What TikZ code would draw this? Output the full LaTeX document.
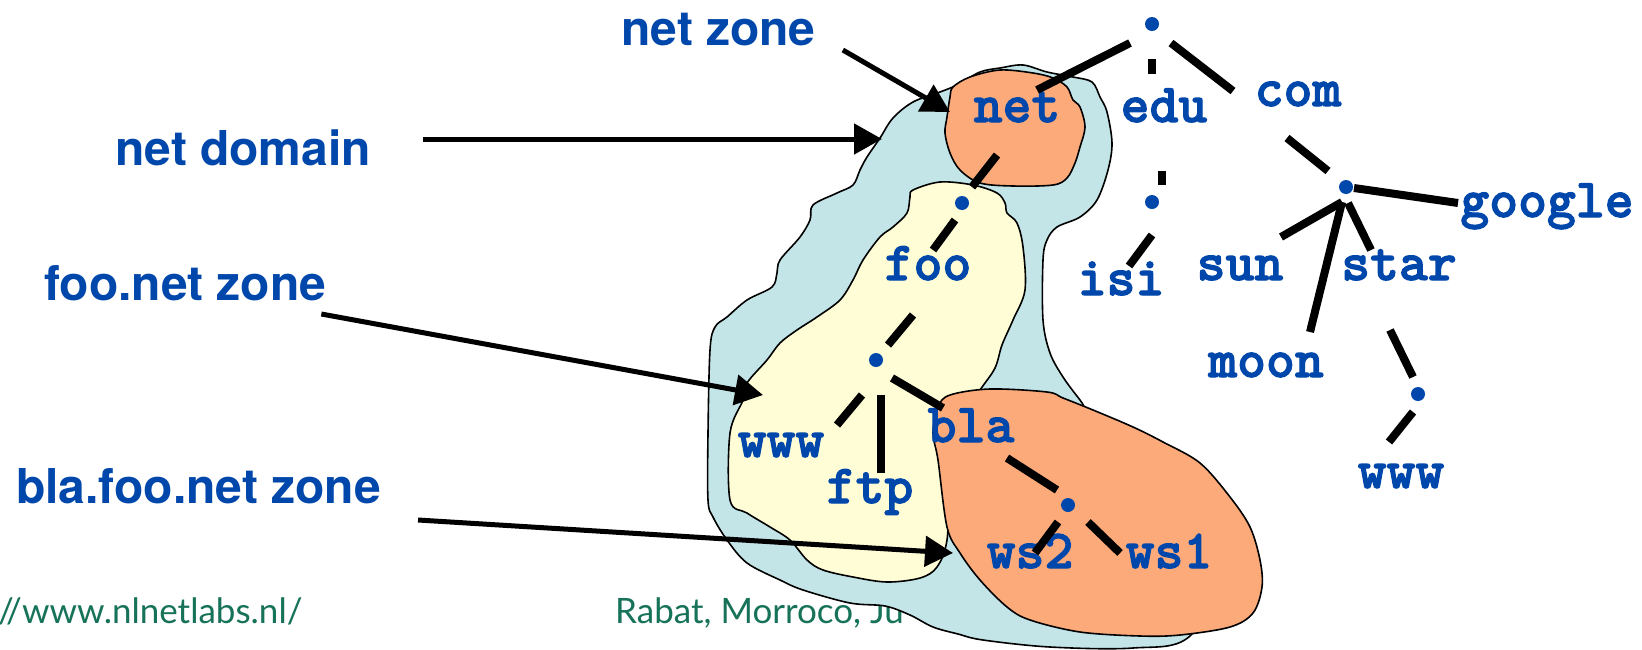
\documentclass[tikz,border=0pt]{standalone}
\usepackage{fontspec}
\setmainfont{TeX Gyre Heros}
\newfontfamily\footfont{Lato}
\newfontfamily\codefont{lmmonolt10-bold.otf}[FakeBold=2]
\usetikzlibrary{arrows.meta,calc}

\definecolor{dnsblue}{RGB}{0,71,171}
\definecolor{footgreen}{RGB}{22,114,88}
\definecolor{domainfill}{RGB}{196,229,232}
\definecolor{zonefill}{RGB}{255,253,213}
\definecolor{orangefill}{RGB}{252,170,122}

\begin{document}
\begin{tikzpicture}[x=1pt,y=-1pt,
  tag/.style={font=\fontsize{48}{52}\selectfont\bfseries, text=dnsblue,
    inner sep=0pt, anchor=base west},
  dname/.style={font=\fontsize{55}{60}\selectfont\codefont, text=dnsblue,
    inner sep=0pt, text height=22pt, text depth=0pt},
  dot/.style={circle, fill=dnsblue, inner sep=0pt, minimum size=14pt},
  edge/.style={line width=8pt},
  pointer/.style={line width=5pt, -{Triangle[length=28pt,width=30pt]}},
  blob/.style={draw=black, line width=1.6pt, line join=round},
  footer/.style={font=\fontsize{35}{40}\selectfont\footfont, text=footgreen,
    inner sep=0pt, anchor=base west}]

\useasboundingbox (0,0) rectangle (1642,649);
\fill[white] (0,0) rectangle (1642,649);

% slide footer, partly hidden by the zones
\node[footer] (url) at (-2,623) {//www.nlnetlabs.nl/};
\node[footer] (venue) at (615,623) {Rabat, Morroco, Ju};

% the net domain
\draw[blob, fill=domainfill] plot[smooth cycle, tension=0.55] coordinates {
  (880,138) (893,118) (913,102) (940,92) (957,85) (980,72) (1000,68)
  (1023,65) (1047,72) (1073,77) (1092,82) (1100,97) (1107,112) (1112,143)
  (1108,170) (1097,200) (1080,217) (1057,227) (1047,240) (1043,260)
  (1043,320) (1050,353) (1063,377) (1080,400) (1100,425) (1180,480)
  (1230,560) (1190,636) (1133,648) (1050,647) (983,640) (958,634)
  (933,627) (910,615) (885,606) (850,603) (803,590) (780,580) (747,563)
  (727,540) (713,517) (708,500) (708,433) (710,350) (715,327) (727,317)
  (747,300) (772,287) (777,273) (780,260) (800,237) (810,220) (813,205)
  (837,193) (853,185) (860,170) (867,157)};

% the foo.net zone
\draw[blob, fill=zonefill] plot[smooth cycle, tension=0.55] coordinates {
  (913,190) (940,182) (973,185) (997,193) (1005,203) (1007,213) (1017,223)
  (1023,247) (1025,290) (1013,320) (1002,345) (995,368) (980,390)
  (960,420) (950,480) (947,540) (937,567) (920,578) (887,582) (853,577)
  (823,570) (807,560) (790,540) (770,527) (747,513) (730,500) (730,433)
  (743,400) (747,383) (767,360) (780,343) (797,330) (817,317) (840,300)
  (853,280) (863,260) (880,237) (893,227) (907,213) (910,197)};

% the net zone
\draw[blob, fill=orangefill] plot[smooth cycle, tension=0.55] coordinates {
  (953,87) (970,77) (1000,70) (1033,73) (1053,78) (1067,87) (1073,100)
  (1080,107) (1085,127) (1080,147) (1075,163) (1067,178) (1053,185)
  (1013,186) (980,183) (960,170) (950,153) (945,133) (947,117) (950,97)};

% the bla.foo.net zone
\draw[blob, fill=orangefill] plot[smooth cycle, tension=0.55] coordinates {
  (950,395) (990,389) (1047,392) (1063,398) (1093,410) (1133,427)
  (1163,442) (1200,463) (1230,497) (1250,527) (1260,560) (1262,587)
  (1253,613) (1230,627) (1180,635) (1140,636) (1080,632) (1030,620)
  (1007,607) (980,580) (960,553) (947,527) (938,460) (933,433) (938,407)};

% tree nodes
\node[dot] (root) at (1152,24) {};
\node[dname] (net) at (1017,111) {net};
\node[dname] (edu) at (1164,111) {edu};
\node[dname] (com) at (1298,95) {com};
\node[dot] (edudot) at (1152,202) {};
\node[dname] (isi) at (1121,284) {isi};
\node[dot] (comdot) at (1346,187) {};
\node[dname] (google) at (1547,206) {google};
\node[dname] (sun) at (1240,269) {sun};
\node[dname] (star) at (1399,269) {star};
\node[dname] (moon) at (1266,366) {moon};
\node[dot] (stardot) at (1418,394) {};
\node[dname] (starwww) at (1401,477) {www};
\node[dot] (foodot) at (962,203) {};
\node[dname] (foo) at (928,269) {foo};
\node[dot] (foodot2) at (876,360) {};
\node[dname] (foowww) at (781,446) {www};
\node[dname] (ftp) at (870,492) {ftp};
\node[dname] (bla) at (971,431) {bla};
\node[dot] (bladot) at (1068,505) {};
\node[dname] (ws2) at (1030,557) {ws2};
\node[dname] (ws1) at (1169,557) {ws1};

% tree edges
\draw[edge] ($(root)+(-22,19)$) -- ($(net)+(20,-21)$);
\draw[edge] ($(root)+(0,35)$) -- ($(edu)+(-12,-37)$);
\draw[edge] ($(root)+(19,19)$) -- ($(com)+(-65,-4)$);
\draw[edge] ($(edu)+(-2,60)$) -- ($(edudot)+(10,-17)$);
\draw[edge] ($(edudot)+(0,33)$) -- ($(isi)+(8,-18)$);
\draw[edge] ($(com)+(-11,43)$) -- ($(comdot)+(-18,-16)$);
\draw[edge] ($(comdot)+(8,1)$) -- ($(google)+(-89,-3)$);
\draw[edge] ($(comdot)+(-4,15)$) -- ($(sun)+(41,-32)$);
\draw[edge] ($(comdot)+(-4,15)$) -- ($(moon)+(44,-34)$);
\draw[edge] ($(comdot)+(2,16)$) -- ($(star)+(-28,-19)$);
\draw[edge] ($(star)+(-9,61)$) -- ($(stardot)+(-5,-17)$);
\draw[edge] ($(stardot)+(-5,18)$) -- ($(starwww)+(-12,-35)$);
\draw[edge] ($(net)+(-20,44)$) -- ($(foodot)+(10,-16)$);
\draw[edge] ($(foodot)+(-7,17)$) -- ($(foo)+(5,-19)$);
\draw[edge] ($(foo)+(-15,46)$) -- ($(foodot2)+(12,-15)$);
\draw[edge] ($(foodot2)+(-14,35)$) -- ($(foowww)+(56,-21)$);
\draw[edge] ($(foodot2)+(5,35)$) -- ($(ftp)+(11,-19)$);
\draw[edge] ($(foodot2)+(16,18)$) -- ($(bla)+(-28,-23)$);
\draw[edge] ($(bla)+(36,27)$) -- ($(bladot)+(-11,-15)$);
\draw[edge] ($(bladot)+(-10,17)$) -- ($(ws2)+(5,-4)$);
\draw[edge] ($(bladot)+(20,17)$) -- ($(ws1)+(-49,-4)$);

% zone and domain labels
\node[tag] (netzone) at (621,45) {net zone};
\node[tag] (netdomain) at (115,165) {net domain};
\node[tag] (foozone) at (44,300) {foo.net zone};
\node[tag] (blazone) at (16,503) {bla.foo.net zone};

\coordinate (netzonetip) at (950,112);
\coordinate (netdomaintip) at (882,139);
\coordinate (foozonetip) at (763,395);
\coordinate (blazonetip) at (953,553);

\draw[pointer] ($(netzone.base east)+(27,5)$) -- (netzonetip);
\draw[pointer] ($(netdomain.base east)+(52,-26)$) -- (netdomaintip);
\draw[pointer] ($(foozone.base east)+(-5,14)$) -- (foozonetip);
\draw[pointer] ($(blazone.base east)+(37,17)$) -- (blazonetip);
\end{tikzpicture}
\end{document}
